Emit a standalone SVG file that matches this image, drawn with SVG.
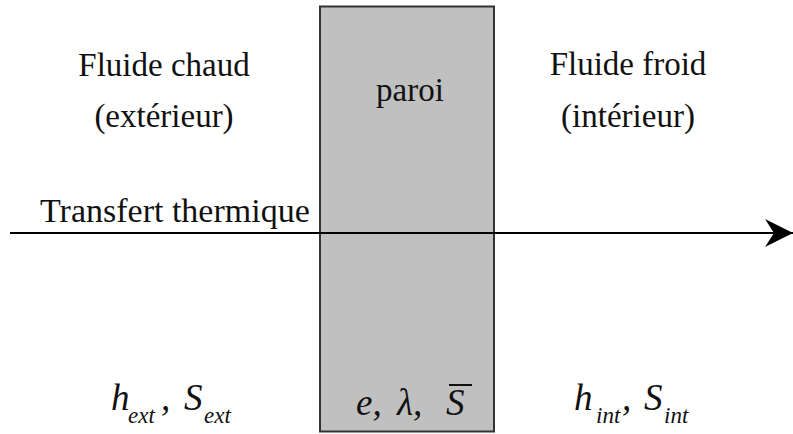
<svg xmlns="http://www.w3.org/2000/svg" width="793" height="434" viewBox="0 0 793 434">
<style>
.t{font-family:'Liberation Serif','Times New Roman',serif;font-size:33px;fill:#111}
.m{font-family:'Liberation Serif','Times New Roman',serif;font-style:italic;font-size:37px;fill:#111}
.s{font-family:'Liberation Serif','Times New Roman',serif;font-style:italic;font-size:23px;fill:#111}
</style>
<defs>
<marker id="ah" markerWidth="28" markerHeight="28" refX="28" refY="14" orient="auto" markerUnits="userSpaceOnUse">
<path d="M0,0 L28,14 L0,28 L9,14 Z" fill="#000"/>
</marker>
</defs>
<rect width="793" height="434" fill="#fff"/>
<g id="paroi">
<rect x="320" y="6.5" width="174" height="425" fill="#c0c0c0" stroke="#333" stroke-width="2"/>
<text class="t" x="410" y="101" text-anchor="middle">paroi</text>
<text class="m" x="356" y="415">e,</text>
<text class="m" x="397" y="415">λ,</text>
<text class="m" x="446" y="415">S</text>
<line x1="449" y1="385" x2="472" y2="385" stroke="#111" stroke-width="2"/>
</g>
<g id="chaud">
<text class="t" x="164" y="76" text-anchor="middle">Fluide chaud</text>
<text class="t" x="164" y="127" text-anchor="middle">(extérieur)</text>
<text class="m" x="111" y="410">h</text>
<text class="s" x="128" y="423">ext</text>
<text class="m" x="161" y="410">,</text>
<text class="m" x="184" y="410">S</text>
<text class="s" x="204" y="423">ext</text>
</g>
<g id="froid">
<text class="t" x="628" y="75" text-anchor="middle">Fluide froid</text>
<text class="t" x="628" y="127" text-anchor="middle">(intérieur)</text>
<text class="m" x="574" y="410">h</text>
<text class="s" x="596" y="423">int</text>
<text class="m" x="622" y="410">,</text>
<text class="m" x="644" y="410">S</text>
<text class="s" x="664" y="423">int</text>
</g>
<g id="connectors">
<line x1="10" y1="233" x2="793" y2="233" stroke="#000" stroke-width="2" marker-end="url(#ah)"/>
<text class="t" x="40" y="222" style="font-size:34px">Transfert thermique</text>
</g>
</svg>
